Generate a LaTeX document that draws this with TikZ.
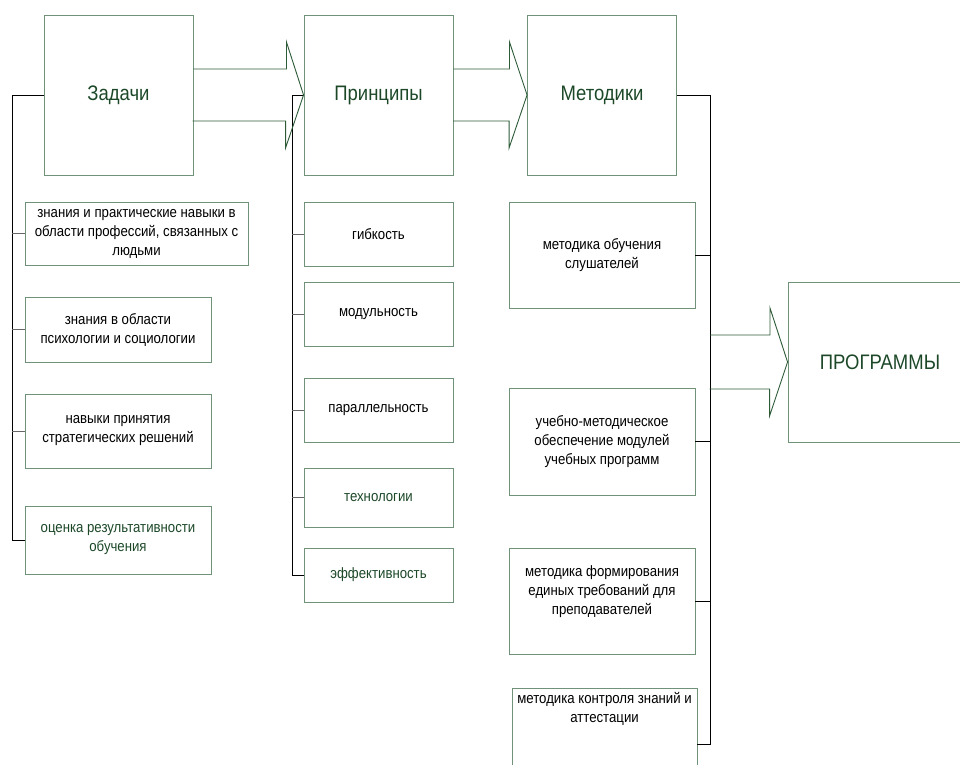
\documentclass[tikz,border=0pt]{standalone}
\usepackage{fontspec}
\setmainfont[FakeStretch=0.88]{Liberation Sans}
\definecolor{boxline}{RGB}{112,146,120}
\definecolor{darkgreen}{RGB}{28,72,40}
\definecolor{arrline}{RGB}{45,90,55}
\begin{document}
\begin{tikzpicture}[x=1pt, y=-1pt, line join=miter,
      box/.style={draw=boxline, line width=0.9pt, align=center, inner sep=2pt},
      head/.style={box, minimum width=149pt, minimum height=160pt, text=darkgreen, font=\fontsize{21}{25}\selectfont},
      item/.style={box, font=\fontsize{15}{19}\selectfont},
      gitem/.style={item, text=darkgreen},
      blk/.style={draw=arrline, line width=0.9pt},
      bus/.style={draw=black, line width=1pt},
      tick/.style={draw=black!60, line width=1pt}]
    \useasboundingbox (0,0) rectangle (960,764);
    \clip (0,0) rectangle (960,764);
    \node[head] (zad) at (118.5,95) {Задачи};
    \node[head] (prin) at (378.5,95) {Принципы};
    \node[head] (met) at (602,95) {Методики};
    \node[head, minimum width=184pt] (prog) at (880,362) {ПРОГРАММЫ};
    \node[item, minimum width=223pt, minimum height=63pt] (t1) at (136.5,233.5) {знания и практические навыки в\\области профессий, связанных с\\людьми};
    \node[item, minimum width=186pt, minimum height=65pt] (t2) at (118,329.5) {знания в области\\психологии и социологии};
    \node[item, minimum width=186pt, minimum height=74pt] (t3) at (118,431) {навыки принятия\\стратегических решений};
    \node[gitem, minimum width=186pt, minimum height=68pt] (t4) at (118,540) {оценка результативности\\обучения};
    \node[item, minimum width=149pt, minimum height=64pt] (p1) at (378.5,234) {гибкость};
    \node[item, minimum width=149pt, minimum height=64pt] (p2) at (378.5,314) {модульность};
    \node[item, minimum width=149pt, minimum height=64pt] (p3) at (378.5,410) {параллельность};
    \node[gitem, minimum width=149pt, minimum height=59pt] (p4) at (378.5,497.5) {технологии};
    \node[gitem, minimum width=149pt, minimum height=54pt] (p5) at (378.5,575) {эффективность};
    \node[item, minimum width=186pt, minimum height=106pt] (m1) at (602,255) {методика обучения\\слушателей};
    \node[item, minimum width=186pt, minimum height=107pt] (m2) at (602,441.5) {учебно-методическое\\обеспечение модулей\\учебных программ};
    \node[item, minimum width=186pt, minimum height=106pt] (m3) at (602,601) {методика формирования\\единых требований для\\преподавателей\\[3pt]\mbox{}};
    \node[item, minimum width=185pt, minimum height=112pt] (m4) at (604.5,744) {методика контроля знаний и\\аттестации\\[55pt]\mbox{}};
    \coordinate (lbus) at (12,95);
    \coordinate (mbus) at (292,95);
    \coordinate (rbus) at (710,95);
    \draw[bus] (zad.west) -- (lbus) |- (t4.west);
    \foreach \n in {t1,t2,t3}
      \draw[tick] (\n.west) -- (\n.west -| lbus);
    \draw[bus] (prin.west) -- (mbus) |- (p5.west);
    \foreach \n in {p1,p2,p3,p4}
      \draw[tick] (\n.west) -- (\n.west -| mbus);
    \draw[bus] (met.east) -- (rbus) |- (m4.east);
    \foreach \n in {m1,m2,m3}
      \draw[bus] (\n.east) -- (\n.east -| rbus);
    \draw[blk] (zad.east) ++(0,-26) -- ++(93,0) -- ++(0,-27) -- (prin.west) -- ++(-18,53) -- ++(0,-27) -- ++(-93,0);
    \draw[blk] (prin.east) ++(0,-26) -- ++(56,0) -- ++(0,-27) -- (met.west) -- ++(-18,53) -- ++(0,-27) -- ++(-56,0);
    \draw[blk] (rbus |- prog.west) ++(0,-27) -- ++(60,0) -- ++(0,-27) -- (prog.west) -- ++(-18,54) -- ++(0,-27) -- ++(-60,0);
  \end{tikzpicture}
\end{document}
